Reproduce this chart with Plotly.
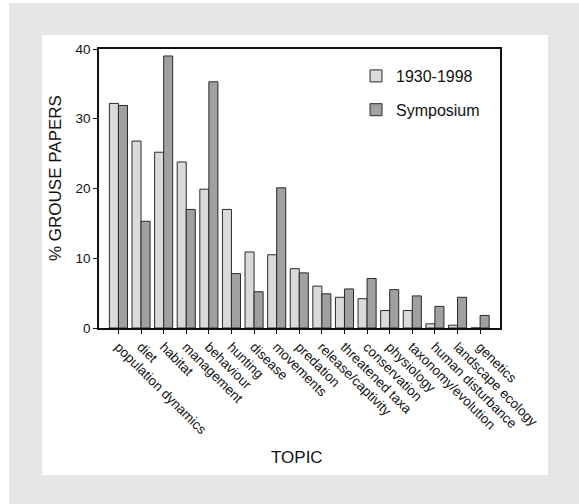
import plotly.graph_objects as go

topics = ["population dynamics", "diet", "habitat", "management", "behaviour",
          "hunting", "disease", "movements", "predation", "release/captivity",
          "threatened taxa", "conservation", "physiology", "taxonomy/evolution",
          "human disturbance", "landscape ecology", "genetics"]
hist_1930_1998 = [32.2, 26.8, 25.2, 23.8, 19.9, 17.0, 10.9, 10.5, 8.5, 6.0,
                  4.4, 4.2, 2.5, 2.5, 0.6, 0.4, 0.0]
symposium = [31.9, 15.3, 39.0, 17.0, 35.3, 7.8, 5.2, 20.1, 7.9, 4.9,
             5.6, 7.1, 5.5, 4.6, 3.1, 4.4, 1.8]
y_ticks = [0, 10, 20, 30, 40]

W, H = 579, 504
L, R, T, B = 99, 500, 49, 328

def px(x):
    return (x - L) / (R - L)

def py(y):
    return (B - y) / (B - T)

FONT = "Liberation Sans, Arial, sans-serif"

fig = go.Figure()
fig.add_trace(go.Bar(x=topics, y=hist_1930_1998, name="1930-1998", legendgroup="a",
                     marker=dict(color="#dadada", line=dict(color="#2a2a2a", width=1))))
fig.add_trace(go.Bar(x=topics, y=symposium, name="Symposium", legendgroup="b",
                     marker=dict(color="#a0a0a0", line=dict(color="#2a2a2a", width=1))))

fig.update_layout(
    width=W, height=H,
    margin=dict(l=L, r=W - R, t=T, b=H - B, pad=0),
    paper_bgcolor="white", plot_bgcolor="white",
    barmode="group", bargap=0.2, bargroupgap=0.0,
    font=dict(family=FONT, color="#111", size=12),
    showlegend=True,
    legend=dict(x=px(356), y=py(59), xanchor="left", yanchor="top",
                bgcolor="rgba(0,0,0,0)", font=dict(size=16, family=FONT),
                itemwidth=30, tracegroupgap=10, traceorder="grouped"),
    xaxis=dict(range=[-0.86, 16.88], showline=True, linecolor="#111", linewidth=1.5,
               mirror=True, ticks="outside", ticklen=4, tickcolor="#111",
               tickangle=45, tickfont=dict(size=13.5, family=FONT), showgrid=False),
    yaxis=dict(range=[0, 40], tickvals=y_ticks, showline=True, linecolor="#111",
               linewidth=1.5, mirror=True, ticks="outside", ticklen=4,
               tickcolor="#111", tickfont=dict(size=13.5, family=FONT),
               showgrid=False, zeroline=False),
    shapes=[
        dict(type="rect", xref="paper", yref="paper", layer="below",
             x0=px(9), x1=px(579), y0=py(3), y1=py(504),
             fillcolor="#e6e6e6", line=dict(width=0)),
        dict(type="rect", xref="paper", yref="paper", layer="below",
             x0=px(42), x1=px(548), y0=py(35), y1=py(475),
             fillcolor="white", line=dict(width=0)),
    ],
    annotations=[
        dict(text="% GROUSE PAPERS", xref="paper", yref="paper",
             x=px(55), y=py(178), textangle=-90, showarrow=False,
             xanchor="center", yanchor="middle",
             font=dict(size=17, family=FONT, color="#111")),
        dict(text="TOPIC", xref="paper", yref="paper",
             x=px(297), y=py(457), showarrow=False,
             xanchor="center", yanchor="middle",
             font=dict(size=17, family=FONT, color="#111")),
    ],
)

fig.write_html("out.html", config={"displayModeBar": False},
               post_script="document.body.style.margin='0';")
